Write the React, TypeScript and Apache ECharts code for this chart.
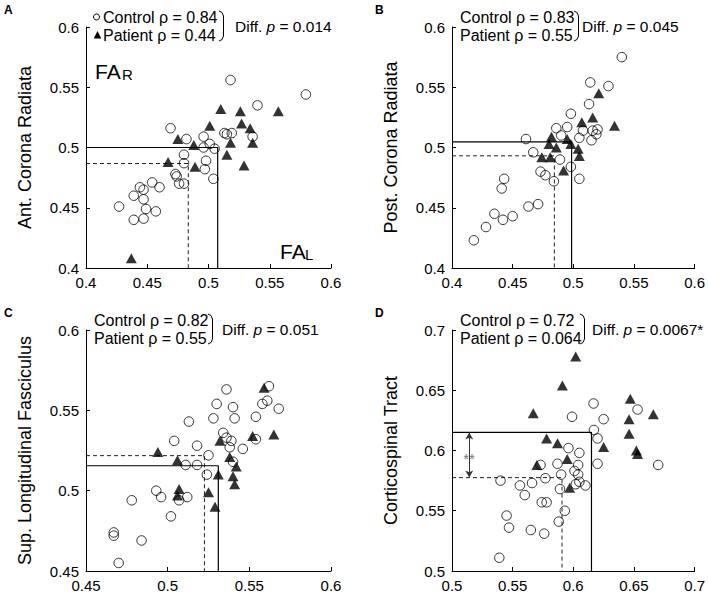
import React, { useEffect, useRef } from "react";
import * as echarts from "echarts";

const FONT = "'Liberation Sans', Arial, Helvetica, sans-serif";

// Panel A: Anterior Corona Radiata
const ctrlA = [
  [0.518, 0.556], [0.5795, 0.544], [0.54, 0.535], [0.469, 0.516], [0.482, 0.507], [0.496, 0.509],
  [0.501, 0.503], [0.505, 0.499], [0.496, 0.5], [0.48, 0.494], [0.48, 0.487], [0.498, 0.489],
  [0.497, 0.482], [0.504, 0.474], [0.473, 0.478], [0.474, 0.476], [0.476, 0.47], [0.48, 0.47],
  [0.46, 0.467], [0.454, 0.471], [0.444, 0.467], [0.447, 0.465], [0.439, 0.46], [0.447, 0.457],
  [0.427, 0.451], [0.449, 0.449], [0.457, 0.447], [0.439, 0.44], [0.447, 0.441], [0.513, 0.512],
  [0.515, 0.511], [0.519, 0.512], [0.536, 0.509],
];
const patA = [
  [0.51, 0.532], [0.526, 0.53], [0.557, 0.53], [0.501, 0.518], [0.527, 0.52], [0.534, 0.516],
  [0.475, 0.507], [0.488, 0.502], [0.518, 0.504], [0.536, 0.504], [0.467, 0.488], [0.489, 0.484],
  [0.515, 0.494], [0.529, 0.485], [0.437, 0.408],
];
const meanCtrlA = [0.4835, 0.4867];
const meanPatA = [0.5075, 0.5];

// Panel B: Posterior Corona Radiata
const ctrlB = [
  [0.54, 0.575], [0.514, 0.554], [0.529, 0.551], [0.513, 0.536], [0.498, 0.528], [0.495, 0.517],
  [0.486, 0.516], [0.49, 0.51], [0.461, 0.507], [0.505, 0.508], [0.508, 0.514], [0.516, 0.514],
  [0.52, 0.515], [0.519, 0.511], [0.515, 0.506], [0.467, 0.496], [0.489, 0.49], [0.498, 0.484],
  [0.473, 0.48], [0.477, 0.477], [0.484, 0.472], [0.505, 0.474], [0.443, 0.474], [0.441, 0.466],
  [0.471, 0.453], [0.463, 0.451], [0.435, 0.445], [0.45, 0.443], [0.442, 0.44], [0.428, 0.434],
  [0.418, 0.423],
];
const patB = [
  [0.521, 0.545], [0.516, 0.525], [0.507, 0.521], [0.534, 0.518], [0.482, 0.509], [0.495, 0.507],
  [0.48, 0.503], [0.486, 0.5], [0.498, 0.503], [0.504, 0.499], [0.474, 0.492], [0.481, 0.492],
  [0.505, 0.493], [0.492, 0.481],
];
const meanCtrlB = [0.4844, 0.4931];
const meanPatB = [0.4986, 0.5047];

// Panel C: Superior Longitudinal Fasciculus
const ctrlC = [
  [0.536, 0.563], [0.562, 0.565], [0.561, 0.556], [0.558, 0.554], [0.568, 0.551], [0.53, 0.554],
  [0.54, 0.552], [0.541, 0.545], [0.528, 0.545], [0.554, 0.546], [0.513, 0.543], [0.534, 0.536],
  [0.536, 0.533], [0.539, 0.531], [0.538, 0.527], [0.546, 0.526], [0.554, 0.532], [0.504, 0.531],
  [0.518, 0.528], [0.525, 0.522], [0.511, 0.516], [0.518, 0.516], [0.54, 0.518], [0.524, 0.51],
  [0.493, 0.5], [0.496, 0.496], [0.512, 0.496], [0.507, 0.494], [0.478, 0.494], [0.502, 0.484],
  [0.467, 0.474], [0.467, 0.472], [0.484, 0.469], [0.47, 0.455],
];
const patC = [
  [0.559, 0.564], [0.565, 0.535], [0.552, 0.534], [0.532, 0.531], [0.494, 0.524], [0.506, 0.519],
  [0.538, 0.521], [0.542, 0.515], [0.531, 0.51], [0.54, 0.509], [0.541, 0.504], [0.507, 0.501],
  [0.506, 0.497], [0.525, 0.499], [0.529, 0.49],
];
const meanCtrlC = [0.5225, 0.5218];
const meanPatC = [0.531, 0.5155];

// Panel D: Corticospinal Tract
const ctrlD = [
  [0.6167, 0.639], [0.653, 0.634], [0.599, 0.628], [0.625, 0.626], [0.617, 0.617], [0.62, 0.61],
  [0.596, 0.602], [0.605, 0.598], [0.573, 0.588], [0.587, 0.589], [0.604, 0.588], [0.62, 0.589],
  [0.67, 0.588], [0.59, 0.58], [0.601, 0.583], [0.604, 0.58], [0.577, 0.577], [0.54, 0.575],
  [0.566, 0.573], [0.556, 0.571], [0.602, 0.572], [0.605, 0.574], [0.61, 0.571], [0.589, 0.568],
  [0.56, 0.563], [0.574, 0.557], [0.578, 0.557], [0.593, 0.55], [0.588, 0.541], [0.545, 0.546],
  [0.547, 0.536], [0.565, 0.534], [0.576, 0.531], [0.539, 0.511],
];
const patD = [
  [0.602, 0.678], [0.591, 0.654], [0.647, 0.643], [0.567, 0.631], [0.646, 0.626], [0.666, 0.63],
  [0.646, 0.614], [0.578, 0.61], [0.587, 0.606], [0.625, 0.603], [0.595, 0.593], [0.652, 0.6],
  [0.653, 0.597], [0.57, 0.588], [0.597, 0.569],
];
const meanCtrlD = [0.5907, 0.5775];
const meanPatD = [0.615, 0.615];
const arrowD = [[0.5142, 0.5775], [0.5142, 0.615]];

const ranges = [
  { x: [0.4, 0.6], y: [0.4, 0.6] },
  { x: [0.4, 0.6], y: [0.4, 0.6] },
  { x: [0.45, 0.6], y: [0.45, 0.6] },
  { x: [0.5, 0.7], y: [0.5, 0.7] },
];
const yTitles = ["Ant. Corona Radiata", "Post. Corona Radiata", "Sup. Longitudinal Fasciculus", "Corticospinal Tract"];
const ctrlRho = ["0.84", "0.83", "0.82", "0.72"];
const patRho = ["0.44", "0.55", "0.55", "0.064"];
const diffP = ["0.014", "0.045", "0.051", "0.0067*"];
const letters = ["A", "B", "C", "D"];

const grids = [
  { left: 86, top: 27, width: 245, height: 241 },
  { left: 452, top: 27, width: 244, height: 241 },
  { left: 86, top: 330, width: 245, height: 241 },
  { left: 452, top: 330, width: 244, height: 241 },
];

export default function App() {
  const ref = useRef<HTMLDivElement>(null);
  useEffect(() => {
    if (!ref.current) return;
    const chart = echarts.init(ref.current, null, { renderer: "svg" });
    const ctrls = [ctrlA, ctrlB, ctrlC, ctrlD];
    const pats = [patA, patB, patC, patD];
    const mCtrl = [meanCtrlA, meanCtrlB, meanCtrlC, meanCtrlD];
    const mPat = [meanPatA, meanPatB, meanPatC, meanPatD];

    const axisBase = (min: number, max: number) => ({
      min,
      max,
      interval: 0.05,
      axisLine: { show: true, onZero: false, lineStyle: { color: "#000", width: 1 } },
      axisTick: { show: true, inside: true, length: 4, lineStyle: { color: "#000", width: 1 } },
      axisLabel: { color: "#000", fontSize: 15, fontFamily: FONT, margin: 7 },
      splitLine: { show: false },
    });

    const xAxis = ranges.map((r, i) => ({ ...axisBase(r.x[0], r.x[1]), type: "value", gridIndex: i }));
    const yAxis = ranges.map((r, i) => ({
      ...axisBase(r.y[0], r.y[1]),
      type: "value",
      gridIndex: i,
      name: yTitles[i],
      nameLocation: "middle",
      nameGap: 52,
      nameTextStyle: { color: "#000", fontSize: 18, fontFamily: FONT },
    }));

    const series: any[] = [];
    ranges.forEach((r, i) => {
      const c = mCtrl[i];
      const p = mPat[i];
      series.push({
        type: "line",
        xAxisIndex: i,
        yAxisIndex: i,
        data: [[r.x[0], c[1]], [c[0], c[1]], [c[0], r.y[0]]],
        symbol: "none",
        silent: true,
        lineStyle: { color: "#222", width: 1, type: [4, 3] },
        z: 1,
      });
      series.push({
        type: "line",
        xAxisIndex: i,
        yAxisIndex: i,
        data: [[r.x[0], p[1]], [p[0], p[1]], [p[0], r.y[0]]],
        symbol: "none",
        silent: true,
        lineStyle: { color: "#000", width: 1.2 },
        z: 1,
      });
      series.push({
        type: "scatter",
        name: "Control",
        xAxisIndex: i,
        yAxisIndex: i,
        data: ctrls[i],
        symbol: "circle",
        symbolSize: 9.5,
        itemStyle: { color: "rgba(255,255,255,0)", borderColor: "#000", borderWidth: 1 },
        z: 2,
      });
      series.push({
        type: "scatter",
        name: "Patient",
        xAxisIndex: i,
        yAxisIndex: i,
        data: pats[i],
        symbol: "triangle",
        symbolSize: [11, 10],
        itemStyle: { color: "#000" },
        z: 3,
      });
    });
    series.push({
      type: "line",
      xAxisIndex: 3,
      yAxisIndex: 3,
      data: [],
      markLine: {
        silent: true,
        symbol: ["arrow", "arrow"],
        symbolSize: [6, 7],
        label: { show: false },
        lineStyle: { color: "#333", width: 1, type: "solid" },
        data: [[{ coord: arrowD[0] }, { coord: arrowD[1] }]],
      },
    });

    const graphic: any[] = [];
    const txt = (text: string, x: number, y: number, size: number, extra: any = {}) => ({
      type: "text",
      x,
      y,
      style: { text, fontSize: size, fontFamily: FONT, fill: "#000", verticalAlign: "middle", align: "left", ...extra },
    });
    const letterPos = [[4, 10], [375, 10], [4, 313], [375, 313]];
    const legPos = [
      { x: 103, y: 17, br: 219, dx: 235 },
      { x: 460, y: 17, br: 574, dx: 582 },
      { x: 94, y: 320, br: 208, dx: 222 },
      { x: 460, y: 320, br: 580, dx: 592 },
    ];
    letters.forEach((l, i) => {
      graphic.push(txt(l, letterPos[i][0], letterPos[i][1], 12, { fontWeight: "bold" }));
      const lp = legPos[i];
      graphic.push(txt("Control \u03c1 = " + ctrlRho[i], lp.x, lp.y, 16));
      graphic.push(txt("Patient \u03c1 = " + patRho[i], lp.x, lp.y + 18, 16));
      const y1 = lp.y - 6;
      const y2 = lp.y + 24;
      graphic.push({
        type: "polyline",
        shape: { points: [[lp.br, y1], [lp.br + 3, y1 + 1.5], [lp.br + 4.5, y1 + 5], [lp.br + 4.5, y2 - 5], [lp.br + 3, y2 - 1.5], [lp.br, y2]] },
        style: { stroke: "#000", lineWidth: 1, fill: "none" },
      });
      graphic.push({
        type: "text",
        x: lp.dx,
        y: lp.y + 9,
        style: {
          text: "Diff. {i|p} = " + diffP[i],
          fontSize: 15.5,
          fontFamily: FONT,
          fill: "#000",
          verticalAlign: "middle",
          align: "left",
          rich: { i: { fontStyle: "italic", fontSize: 15.5, fontFamily: FONT, fill: "#000" } },
        },
      });
    });
    // legend markers in panel A
    graphic.push({ type: "circle", shape: { cx: 96.5, cy: 17, r: 3 }, style: { stroke: "#000", fill: "none", lineWidth: 1 } });
    graphic.push({ type: "polygon", shape: { points: [[97.5, 31], [93.7, 38.5], [101.3, 38.5]] }, style: { fill: "#000" } });
    // FA labels
    graphic.push(txt("FA", 95, 71, 21));
    graphic.push(txt("R", 122, 74, 15));
    graphic.push(txt("FA", 280, 251, 21));
    graphic.push(txt("L", 305, 254, 15));
    // significance marker
    graphic.push(txt("**", 469, 458, 15, { fill: "#777", align: "center" }));

    chart.setOption({
      animation: false,
      backgroundColor: "#fff",
      textStyle: { fontFamily: FONT },
      grid: grids,
      xAxis,
      yAxis,
      series,
      graphic,
    });
    return () => chart.dispose();
  }, []);
  return <div ref={ref} style={{ position: "fixed", left: 0, top: 0, width: 708, height: 598 }} />;
}
